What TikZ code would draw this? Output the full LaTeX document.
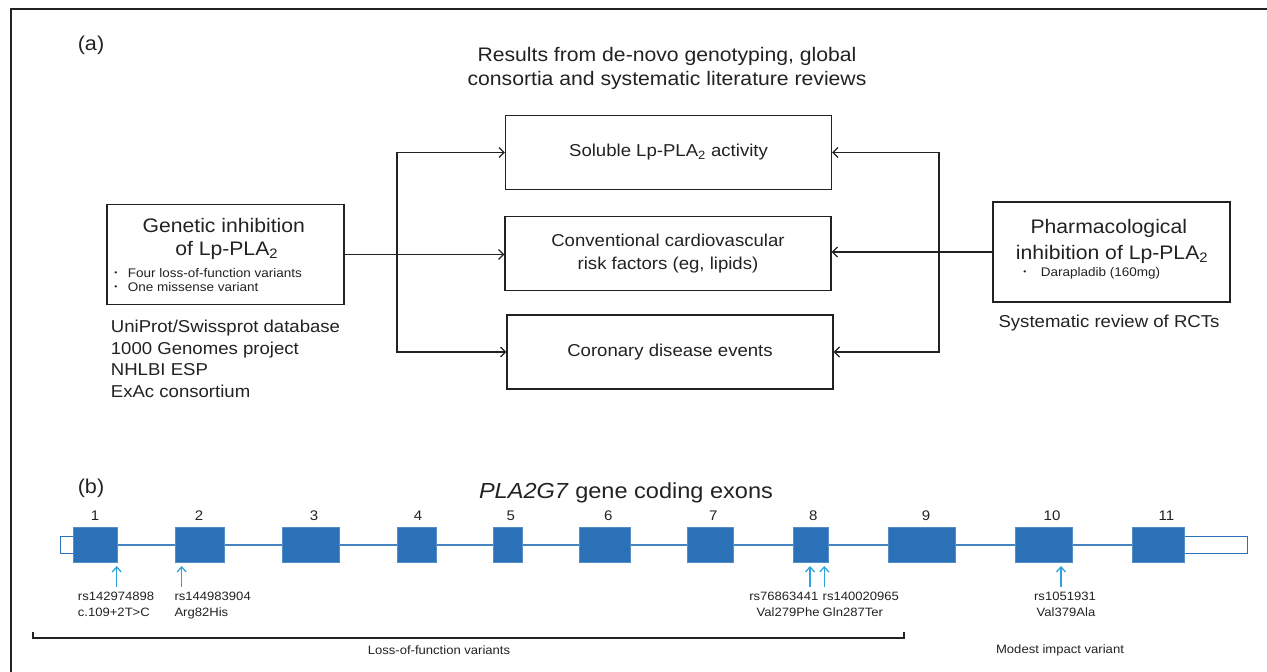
\documentclass[tikz,border=0pt]{standalone}
\usepackage{fontspec}
\setmainfont{Liberation Sans}[FakeStretch=1.08]
\usetikzlibrary{arrows.meta}
\definecolor{ink}{HTML}{222222}
\definecolor{exonblue}{HTML}{2A71B8}
\definecolor{intronblue}{HTML}{4683C4}
\definecolor{snpblue}{HTML}{2CA4E0}
\newcommand{\myfs}[2]{\fontsize{#1}{#2}\selectfont}
\tikzset{
  txt/.style={text=ink, inner sep=0pt},
  bigt/.style={txt, font=\myfs{19.6}{24}},
  medt/.style={txt, font=\myfs{17.2}{23.4}},
  smallt/.style={txt, font=\myfs{12.5}{15}},
  dott/.style={txt, font=\myfs{8}{8}},
  snpt/.style={txt, font=\myfs{12.1}{15.5}},
  numt/.style={txt, font=\myfs{13.9}{16}},
  outcome/.style={draw=ink, line width=1.3pt, minimum width=326pt, minimum height=74pt,
    inner sep=0pt, align=center, text=ink, font=\myfs{17.2}{23.4}},
  srcbox/.style={draw=ink, line width=1.3pt, minimum width=237pt, minimum height=100pt, inner sep=0pt},
  wire/.style={draw=ink, line width=1.2pt},
  conn/.style={wire, -{Straight Barb[length=5pt,width=10pt,line width=1.2pt]}},
  exon/.style={draw=exonblue!80!white, line width=0.8pt, fill=exonblue, minimum height=34.6pt, inner sep=0pt},
  utr/.style={draw=exonblue, line width=1.3pt, fill=white, minimum height=16.5pt, inner sep=0pt},
  intron/.style={draw=intronblue, line width=1.6pt},
  snp/.style={draw=snpblue, line width=1.5pt, -{Straight Barb[length=5pt,width=9pt,line width=1.3pt]}},
}
\begin{document}
\begin{tikzpicture}[x=1pt,y=-1pt]
\useasboundingbox (0,0) rectangle (1267,672);
\draw[ink, line width=2.2pt] (11,672) -- (11,9) -- (1267,9);

% ---------- (a) ----------
\node[txt, font=\myfs{20}{24}] (la) at (91,45) {(a)};
\node[bigt, align=center] (title) at (667,68) {Results from de-novo genotyping, global\\consortia and systematic literature reviews};

\node[outcome] (sol) at (668.5,152.5) {Soluble Lp-PLA\textsubscript{2} activity};
\node[outcome] (conv) at (668,253.5) {Conventional cardiovascular\\risk factors (eg, lipids)};
\node[outcome] (cor) at (670,352) {Coronary disease events};

% genetic box
\node[srcbox] (gen) at (225.5,254.5) {};
\node[bigt, anchor=base] (gen1) at (223.8,232) {Genetic inhibition};
\node[bigt, anchor=base] (gen2) at (226.7,255) {of Lp-PLA\textsubscript{2}};
\node[dott, anchor=base] (gd1) at (116,275.5) {\textbullet};
\node[smallt, anchor=base west] (gb1) at (127.7,277) {Four loss-of-function variants};
\node[dott, anchor=base] (gd2) at (116,289.5) {\textbullet};
\node[smallt, anchor=base west] (gb2) at (127.7,291) {One missense variant};

\node[medt, anchor=base west] (src1) at (110.7,332) {UniProt/Swissprot database};
\node[medt, anchor=base west] (src2) at (110.7,354) {1000 Genomes project};
\node[medt, anchor=base west] (src3) at (110.7,375.5) {NHLBI ESP};
\node[medt, anchor=base west] (src4) at (110.7,397) {ExAc consortium};

% pharmacological box
\node[srcbox] (pharm) at (1111.5,252) {};
\node[bigt, anchor=base] (ph1) at (1108.8,233.3) {Pharmacological};
\node[bigt, anchor=base] (ph2) at (1112,259) {inhibition of Lp-PLA\textsubscript{2}};
\node[dott, anchor=base] (pd1) at (1025,274.5) {\textbullet};
\node[smallt, anchor=base west] (pb1) at (1040.7,276) {Darapladib (160mg)};
\node[medt, anchor=base] (rct) at (1109,327.5) {Systematic review of RCTs};

% connectors
\coordinate (jl) at (397,253);
\coordinate (jr) at (939,252);
\draw[conn] (gen.east) -- (gen.east -| conv.west);
\draw[conn] (cor.west -| jl) -- (sol.west -| jl) -- (sol.west);
\draw[conn] (sol.west -| jl) -- (cor.west -| jl) -- (cor.west);
\draw[conn] (pharm.west) -- (pharm.west -| conv.east);
\draw[conn] (cor.east -| jr) -- (sol.east -| jr) -- (sol.east);
\draw[conn] (sol.east -| jr) -- (cor.east -| jr) -- (cor.east);

% ---------- (b) ----------
\node[txt, font=\myfs{20}{24}] (lb) at (91,488) {(b)};
\node[txt, font=\myfs{21.8}{26}] (gt) at (626,493) {\textit{PLA2G7} gene coding exons};

\node[utr, minimum width=13pt] (utrL) at (67.2,545) {};
\node[utr, minimum width=63.7pt] (utrR) at (1215.85,545) {};
\draw[intron] (utrL.east) -- (utrR.west);

\node[exon, minimum width=44pt]   (e1)  at (95.7,545) {};
\node[exon, minimum width=49.3pt] (e2)  at (199.65,545) {};
\node[exon, minimum width=56.3pt] (e3)  at (310.85,545) {};
\node[exon, minimum width=38.8pt] (e4)  at (417.1,545) {};
\node[exon, minimum width=29.4pt] (e5)  at (508,545) {};
\node[exon, minimum width=50.7pt] (e6)  at (604.65,545) {};
\node[exon, minimum width=46pt]   (e7)  at (710.3,545) {};
\node[exon, minimum width=35pt]   (e8)  at (810.8,545) {};
\node[exon, minimum width=66.7pt] (e9)  at (921.65,545) {};
\node[exon, minimum width=57.3pt] (e10) at (1043.65,545) {};
\node[exon, minimum width=51.3pt] (e11) at (1158.35,545) {};

\node[numt] (n1)  at (95,516) {1};
\node[numt] (n2)  at (199,516) {2};
\node[numt] (n3)  at (314,516) {3};
\node[numt] (n4)  at (418,516) {4};
\node[numt] (n5)  at (510.7,516) {5};
\node[numt] (n6)  at (608.3,516) {6};
\node[numt] (n7)  at (713.3,516) {7};
\node[numt] (n8)  at (813.3,516) {8};
\node[numt] (n9)  at (926,516) {9};
\node[numt] (n10) at (1052,516) {10};
\node[numt] (n11) at (1166.5,516) {11};

% SNP arrows
\coordinate (s1) at (116.7,587);
\coordinate (s2) at (181.7,587);
\coordinate (s3) at (810,587);
\coordinate (s4) at (824.3,587);
\coordinate (s5) at (1061,587);
\draw[snp] (s1) -- ++(0,-21);
\draw[snp] (s2) -- ++(0,-21);
\draw[snp] (s3) -- ++(0,-21);
\draw[snp] (s4) -- ++(0,-21);
\draw[snp] (s5) -- ++(0,-21);

\node[snpt, anchor=base west] (r1a) at (77.7,600.5) {rs142974898};
\node[snpt, anchor=base west] (r1b) at (77.7,616) {c.109+2T>C};
\node[snpt, anchor=base west] (r2a) at (174.3,600.5) {rs144983904};
\node[snpt, anchor=base west] (r2b) at (174.3,616) {Arg82His};
\node[snpt, anchor=base east] (r3a) at (818.5,600.5) {rs76863441};
\node[snpt, anchor=base east] (r3b) at (819.8,616) {Val279Phe};
\node[snpt, anchor=base west] (r4a) at (822.5,600.5) {rs140020965};
\node[snpt, anchor=base west] (r4b) at (822.5,616) {Gln287Ter};
\node[snpt, anchor=base] (r5a) at (1065,600.5) {rs1051931};
\node[snpt, anchor=base] (r5b) at (1066,616) {Val379Ala};

% bracket
\coordinate (bl) at (33,638);
\coordinate (br) at (904,638);
\draw[ink, line width=1.3pt] (bl) ++(0,-6) -- (bl) -- (br) -- ++(0,-6);
\node[snpt] (lof) at (439,650) {Loss-of-function variants};
\node[snpt] (mod) at (1060,650) {Modest impact variant};
\end{tikzpicture}
\end{document}
